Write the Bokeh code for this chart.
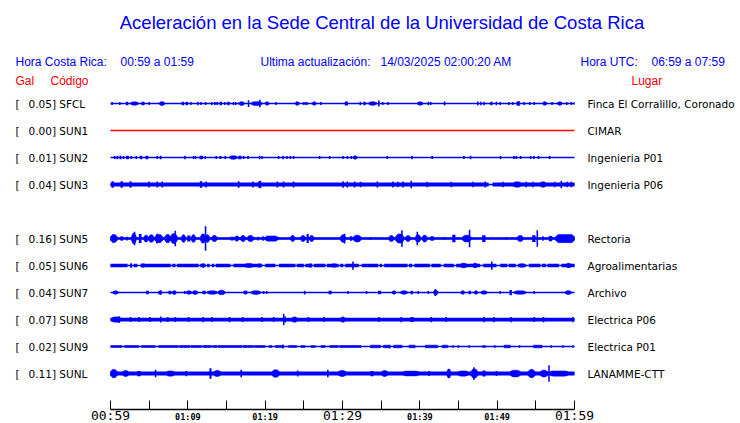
from bokeh.plotting import figure
from bokeh.models import LinearAxis, FixedTicker, Range1d, ColumnDataSource
from bokeh.core.properties import value
from bokeh.embed import file_html
from bokeh.resources import INLINE

# ---------------- data ----------------
TITLE = "Aceleración en la Sede Central de la Universidad de Costa Rica"
HDR_CR = ["Hora Costa Rica:", "00:59 a 01:59"]
HDR_UPD = ["Ultima actualización:", "14/03/2025 02:00:20 AM"]
HDR_UTC = ["Hora UTC:", "06:59 a 07:59"]
COL_HEADS = ["Gal", "Código", "Lugar"]

STATIONS = ["SFCL", "SUN1", "SUN2", "SUN3", "SUN5", "SUN6", "SUN7", "SUN8", "SUN9", "SUNL"]
SLOTS = [0, 1, 2, 3, 5, 6, 7, 8, 9, 10]          # SUN4 slot is empty
PEAK_GAL = [0.05, 0.00, 0.01, 0.04, 0.16, 0.05, 0.04, 0.07, 0.02, 0.11]
PLACES = ["Finca El Corralillo, Coronado", "CIMAR", "Ingenieria P01", "Ingenieria P06",
          "Rectoria", "Agroalimentarias", "Archivo", "Electrica P06", "Electrica P01", "LANAMME-CTT"]

# time axis (minutes after 00:59)
TICKS = [0, 5, 10, 15, 20, 25, 30, 35, 40, 45, 50, 55, 60]
SMALL_LABELS = {10: "01:09", 20: "01:19", 40: "01:39", 50: "01:49"}
BIG_LABELS = {0: "00:59", 30: "01:29", 60: "01:59"}

# continuous background level of each trace (gal, half amplitude)
BASE_GAL = [0.0, 0.0, 0.0, 0.028, 0.018, 0.022, 0.0, 0.025, 0.018, 0.027]

# quiet stretches (minutes) where the background level drops to the bare line
QUIET_SUN3 = [(48.9, 49.4)]
QUIET_SUN6 = [(2.2, 2.5), (2.7, 3.0), (3.45, 3.9), (7.8, 8.0), (8.4, 8.6), (11.4, 11.6), (12.3, 12.5),
              (12.8, 13.1), (13.4, 13.6), (15.5, 15.9), (19.6, 20.0), (21.3, 21.8), (23.9, 24.1),
              (25.0, 25.2), (26.1, 26.3), (27.8, 28.0), (29.5, 29.7), (30.1, 30.35), (32.1, 32.5),
              (34.6, 34.8), (35.1, 35.4), (38.4, 38.6), (39.0, 39.3), (41.3, 41.5), (42.7, 43.1),
              (44.4, 44.7), (47.8, 48.2), (49.9, 50.4), (51.3, 51.5), (52.4, 52.7), (53.7, 54.1),
              (55.6, 55.8), (56.3, 56.5), (58.0, 58.3)]
QUIET_SUN9 = [(1.5, 1.8), (3.7, 4.0), (5.8, 6.2), (8.8, 8.9), (10.3, 10.4), (11.8, 11.9), (13.1, 13.2),
              (13.8, 13.9), (17.0, 17.1), (18.5, 18.6), (20.0, 20.5), (20.9, 21.3), (22.4, 23.0),
              (24.1, 24.6), (25.2, 25.9), (26.5, 27.2), (27.8, 28.3), (29.5, 29.6), (32.4, 60.0)]

# bursts: (start minute, end minute, half amplitude in gal)
BURSTS_SFCL = [(0.1, 0.1, .02), (1.1, 1.1, .02), (2.0, 2.3, .022), (2.6, 3.6, .022), (4.0, 4.4, .022),
               (4.9, 4.9, .02), (6.3, 7.0, .025), (9.2, 9.5, .022), (9.7, 10.0, .022), (10.3, 10.5, .02),
               (11.2, 11.2, .022), (11.6, 11.6, .02), (12.2, 12.2, .02), (13.0, 13.0, .02), (13.4, 13.4, .02),
               (13.7, 13.7, .02), (14.1, 14.4, .022), (14.7, 14.7, .02), (15.1, 15.4, .022), (15.8, 15.8, .02),
               (16.1, 16.1, .02), (16.6, 17.3, .025), (17.75, 17.95, .045), (18.2, 19.6, .025),
               (19.2, 19.25, .05), (20.0, 20.5, .022), (21.3, 21.3, .02), (23.9, 24.4, .024),
               (24.9, 24.9, .02), (25.2, 25.5, .02), (26.1, 26.6, .022), (27.1, 27.1, .02), (30.3, 30.7, .026),
               (32.2, 32.2, .022), (32.7, 33.0, .022), (33.4, 34.4, .024), (34.6, 34.75, .04), (35.1, 35.1, .02),
               (35.8, 35.8, .02), (39.7, 40.4, .022), (41.0, 41.0, .022), (41.3, 41.3, .02), (43.1, 43.1, .028),
               (47.4, 47.4, .026), (47.8, 47.8, .022), (48.2, 48.2, .022), (49.1, 49.4, .024), (49.8, 50.0, .022),
               (50.3, 50.3, .02), (51.4, 51.4, .02), (51.9, 51.9, .02), (52.5, 52.9, .026), (52.7, 52.7, .032),
               (53.4, 53.4, .02), (54.1, 54.1, .02), (54.7, 54.7, .02), (55.9, 56.4, .024), (57.0, 57.0, .02),
               (57.8, 58.4, .022), (58.9, 58.9, .02), (59.5, 59.5, .02), (59.9, 59.9, .02)]
BURSTS_SUN1 = []
BURSTS_SUN2 = [(0.43, 0.65, .02), (0.78, 1.0, .022), (1.16, 1.42, .022), (1.59, 1.59, .02), (2.03, 2.37, .022),
               (2.59, 2.59, .02), (3.23, 3.23, .02), (3.79, 4.1, .022), (4.53, 4.88, .022), (5.95, 5.95, .02),
               (6.37, 6.59, .022), (9.53, 9.53, .022), (10.64, 10.64, .02), (10.9, 10.9, .02),
               (11.51, 11.94, .024), (12.16, 12.16, .02), (13.58, 13.58, .02), (14.09, 14.35, .02),
               (14.74, 14.74, .02), (15.39, 16.38, .024), (16.51, 16.94, .022), (17.11, 17.11, .02),
               (17.68, 17.68, .02), (19.18, 19.18, .022), (19.49, 19.49, .02), (21.63, 21.63, .02),
               (22.2, 22.41, .022), (22.72, 22.72, .02), (23.15, 23.15, .02), (23.57, 23.57, .02),
               (26.94, 26.94, .02), (28.23, 28.23, .02), (29.96, 29.96, .02), (30.52, 30.52, .02),
               (31.04, 31.04, .02), (31.38, 31.9, .022), (35.69, 35.69, .02), (38.88, 38.88, .022),
               (41.5, 41.7, .02), (45.61, 45.61, .02), (46.46, 46.46, .022), (50.34, 50.34, .02),
               (52.07, 52.07, .02), (52.37, 52.37, .02), (52.93, 52.93, .02), (54.22, 54.22, .02),
               (54.66, 54.66, .02), (55.26, 55.26, .02), (56.68, 56.68, .02)]
BURSTS_SUN3 = [(0.13, 0.43, .042), (1.29, 1.59, .042), (2.46, 2.72, .042), (4.88, 4.88, .04), (5.95, 5.95, .04),
               (6.59, 6.59, .04), (11.55, 11.86, .042), (12.28, 12.28, .04), (16.46, 16.68, .042),
               (18.32, 18.32, .04), (19.1, 19.44, .042), (19.3, 19.3, .05), (21.47, 21.47, .04),
               (22.28, 22.28, .04), (23.57, 23.57, .04), (29.96, 30.04, .042), (30.52, 30.52, .04),
               (31.47, 31.47, .04), (32.24, 32.24, .036), (34.4, 34.4, .04), (36.43, 36.63, .04),
               (37.07, 37.07, .036), (37.72, 37.72, .04), (38.79, 38.79, .05), (40.86, 40.86, .036),
               (43.97, 43.97, .036), (46.77, 46.77, .036), (48.36, 48.36, .04), (50.65, 50.65, .036),
               (52.15, 53.02, .036), (53.66, 53.66, .036), (54.53, 54.53, .036), (55.6, 56.25, .036),
               (57.33, 57.33, .036), (58.19, 58.19, .05), (58.97, 58.97, .036), (59.48, 59.48, .036)]
BURSTS_SUN5 = [(0.0, 0.87, .053), (1.29, 1.59, .03), (2.03, 2.03, .025), (2.72, 3.32, .07), (3.01, 3.01, .09),
               (3.66, 4.01, .06), (4.31, 4.88, .045), (4.95, 5.6, .05), (5.73, 6.76, .055), (5.91, 5.91, .065),
               (7.02, 7.76, .055), (7.76, 8.63, .065), (8.28, 8.28, .104), (9.18, 9.7, .05), (9.92, 10.34, .04),
               (10.47, 10.99, .05), (11.64, 12.28, .06), (12.19, 12.28, .164), (12.28, 12.8, .05),
               (13.06, 13.8, .04), (15.52, 15.94, .025), (16.07, 16.59, .035), (16.81, 17.46, .04),
               (17.68, 18.53, .04), (18.97, 19.18, .025), (19.62, 19.62, .03), (19.95, 21.69, .035),
               (23.28, 23.83, .04), (24.57, 25.22, .04), (25.35, 25.64, .06), (25.73, 26.29, .04),
               (29.74, 30.39, .05), (30.17, 30.17, .065), (30.95, 31.25, .03), (31.38, 32.42, .045),
               (33.53, 33.53, .02), (35.99, 36.63, .04), (36.85, 37.93, .06), (37.59, 37.59, .11),
               (38.15, 38.79, .04), (39.44, 40.09, .05), (39.57, 39.57, .09), (40.31, 40.95, .045),
               (41.38, 41.81, .03), (43.1, 43.1, .02), (44.19, 44.61, .05), (45.48, 46.64, .045),
               (46.33, 46.33, .117), (48.06, 48.49, .045), (51.08, 51.08, .02), (52.59, 53.37, .04),
               (54.53, 54.96, .045), (55.09, 55.09, .11), (55.82, 55.82, .03), (56.68, 57.12, .035),
               (57.54, 60.0, .055)]
BURSTS_SUN6 = [(2.6, 2.6, .03), (4.0, 4.4, .028), (11.9, 11.9, .03), (17.5, 18.3, .028), (19.1, 19.4, .028),
               (25.7, 26.0, .028), (28.7, 29.1, .028), (31.25, 31.25, .055), (45.3, 46.0, .03),
               (46.9, 47.4, .03), (49.2, 49.2, .055), (53.0, 53.4, .028), (59.0, 59.5, .03)]
BURSTS_SUN7 = [(0.3, 1.0, .022), (4.6, 4.95, .022), (6.2, 6.6, .025), (6.4, 6.4, .03), (7.5, 7.9, .022),
               (8.0, 8.5, .025), (9.5, 9.5, .02), (9.8, 10.5, .022), (10.6, 11.3, .025), (11.9, 12.3, .022),
               (12.5, 13.8, .022), (13.9, 14.8, .03), (17.2, 17.7, .022), (18.2, 19.4, .025), (19.7, 19.7, .02),
               (20.1, 20.1, .02), (25.0, 25.0, .025), (28.2, 28.6, .022), (30.6, 30.6, .02), (33.0, 33.0, .02),
               (34.6, 35.0, .022), (36.4, 36.9, .022), (37.5, 38.4, .022), (38.8, 39.1, .022),
               (39.7, 39.7, .02), (41.0, 41.0, .02), (41.8, 42.3, .035), (41.9, 41.9, .045), (45.3, 45.8, .022),
               (46.3, 46.6, .022), (47.0, 47.5, .022), (47.9, 48.7, .022), (50.3, 50.3, .02),
               (51.6, 51.9, .035), (52.2, 53.7, .022), (54.7, 54.7, .02), (58.8, 59.6, .025)]
BURSTS_SUN8 = [(0.2, 1.3, .035), (1.0, 1.0, .045), (2.5, 2.5, .033), (3.6, 3.6, .033), (5.0, 5.0, .033),
               (6.4, 6.4, .04), (7.3, 7.3, .033), (8.3, 8.3, .033), (10.0, 10.0, .033), (11.9, 11.9, .035),
               (13.0, 13.0, .033), (15.3, 15.3, .035), (17.0, 17.0, .033), (19.5, 19.5, .033),
               (21.0, 21.0, .033), (22.3, 22.3, .075), (22.5, 22.5, .04), (23.5, 24.1, .035),
               (25.5, 25.5, .033), (27.5, 27.5, .033), (29.8, 30.3, .035), (34.6, 34.6, .033),
               (37.5, 37.5, .035), (38.8, 39.2, .033), (41.4, 41.4, .035), (43.3, 43.3, .033),
               (48.2, 48.2, .035), (49.5, 49.5, .035), (51.7, 51.7, .035), (54.7, 54.7, .033),
               (55.9, 55.9, .035), (59.7, 59.7, .035)]
BURSTS_SUN9 = [(22.2, 22.2, .028), (33.6, 34.9, .018), (35.3, 36.0, .018), (36.0, 36.0, .025),
               (36.6, 37.7, .018), (38.6, 39.4, .018), (40.7, 42.3, .018), (42.9, 43.6, .018),
               (44.2, 44.2, .018), (44.9, 44.9, .018), (46.3, 46.3, .018), (48.1, 48.5, .018),
               (49.6, 49.6, .018), (50.9, 51.7, .018), (52.8, 52.8, .018), (54.7, 55.8, .018),
               (56.9, 56.9, .018), (58.4, 58.4, .018), (59.7, 59.7, .018)]
BURSTS_SUNL = [(0.0, 0.87, .055), (1.6, 2.3, .04), (3.45, 3.9, .035), (5.73, 5.73, .05), (7.3, 8.2, .035),
               (9.7, 9.7, .035), (12.8, 13.06, .07), (13.4, 14.2, .04), (16.8, 17.0, .05), (20.9, 21.8, .05),
               (24.1, 24.1, .04), (28.0, 28.0, .05), (29.5, 30.4, .04), (33.6, 34.0, .035), (35.1, 35.8, .04),
               (37.9, 39.8, .032), (41.1, 41.1, .032), (43.5, 44.0, .06), (45.0, 46.2, .035),
               (46.6, 47.5, .06), (46.9, 46.9, .085), (48.1, 48.5, .04), (49.8, 49.8, .032),
               (51.7, 53.0, .045), (54.0, 54.9, .055), (55.6, 56.5, .045), (56.6, 56.6, .11),
               (56.9, 59.1, .035)]

QUIET = [[], [], [], QUIET_SUN3, [], QUIET_SUN6, [], [], QUIET_SUN9, []]
BURSTS = [BURSTS_SFCL, BURSTS_SUN1, BURSTS_SUN2, BURSTS_SUN3, BURSTS_SUN5, BURSTS_SUN6,
          BURSTS_SUN7, BURSTS_SUN8, BURSTS_SUN9, BURSTS_SUNL]

# ---------------- layout constants ----------------
T0, T1 = 0.0, 60.0
PX_PER_MIN = 464 / 60.0
X_ORIGIN_PX = 110


def px2min(px):
    return (px - X_ORIGIN_PX) / PX_PER_MIN


ROW0, ROW_STEP = 103, 27
GAL_PX = 75.0
MIN_W = 0.2
BLUE, RED = "#0000ff", "#ff0000"

W, FRAME_H = 740, 409
p = figure(frame_width=W, frame_height=FRAME_H,
           x_range=Range1d(px2min(0), px2min(W)), y_range=Range1d(FRAME_H, 0),
           output_backend="svg", toolbar_location=None, min_border=0,
           x_axis_type=None, y_axis_type=None, outline_line_color=None,
           background_fill_color="white", border_fill_color="white")
p.grid.visible = False

# ---------------- traces ----------------
rq = dict(left=[], right=[], top=[], bottom=[], color=[])   # background band + thin spikes
pxs, pys, pcol = [], [], []                                  # tapered bursts
ln = dict(x0=[], x1=[], y=[], color=[])
for i, st in enumerate(STATIONS):
    yc = ROW0 + SLOTS[i] * ROW_STEP
    col = RED if PEAK_GAL[i] == 0 else BLUE
    ln["x0"].append(T0); ln["x1"].append(T1); ln["y"].append(yc); ln["color"].append(col)
    b = BASE_GAL[i]
    if b > 0:
        start = T0
        for q0, q1 in sorted(QUIET[i]) + [(T1, T1)]:
            if q0 > start:
                rq["left"].append(start); rq["right"].append(q0)
                rq["top"].append(yc - b * GAL_PX); rq["bottom"].append(yc + b * GAL_PX)
                rq["color"].append(col)
            start = max(start, q1)
    for t0, t1, a in BURSTS[i]:
        w = t1 - t0
        if w < 0.45:
            r = min(max(t1, t0 + MIN_W), T1)
            rq["left"].append(t0); rq["right"].append(r)
            rq["top"].append(yc - a * GAL_PX); rq["bottom"].append(yc + a * GAL_PX)
            rq["color"].append(col)
        else:
            tp = min(0.3 * w, 0.35)
            lo = max(b, 0.45 * a) * GAL_PX
            hi = a * GAL_PX
            pxs.append([t0, t0 + tp, t1 - tp, t1, t1, t1 - tp, t0 + tp, t0])
            pys.append([yc - lo, yc - hi, yc - hi, yc - lo, yc + lo, yc + hi, yc + hi, yc + lo])
            pcol.append(col)

p.quad(left="left", right="right", top="top", bottom="bottom", fill_color="color",
       line_color=None, source=ColumnDataSource(rq))
p.patches(xs="xs", ys="ys", fill_color="color", line_color="color", line_width=0.5,
          source=ColumnDataSource(dict(xs=pxs, ys=pys, color=pcol)))
p.segment(x0="x0", x1="x1", y0="y", y1="y", line_color="color", line_width=1.6,
          source=ColumnDataSource(ln))

# ---------------- station labels ----------------
rows_y = [ROW0 + s * ROW_STEP for s in SLOTS]
lab_font = value("DejaVu Sans")
p.text(x=[px2min(15)] * len(STATIONS), y=rows_y, text=["["] * len(STATIONS),
       text_font=lab_font, text_font_size="10.5px", text_baseline="middle", text_color="black")
p.text(x=[px2min(28)] * len(STATIONS), y=rows_y,
       text=[f"{g:.2f}] {s}" for g, s in zip(PEAK_GAL, STATIONS)],
       text_font=lab_font, text_font_size="10.5px", text_baseline="middle", text_color="black")
p.text(x=[px2min(587)] * len(STATIONS), y=rows_y, text=PLACES,
       text_font=lab_font, text_font_size="10.5px", text_baseline="middle", text_color="black")

# ---------------- header ----------------
hf = value("Liberation Sans")
p.text(x=[px2min(381.5)], y=[22], text=[TITLE], text_font=hf, text_font_size="18.5px",
       text_align="center", text_baseline="middle", text_color=BLUE)
hx = [px2min(15), px2min(120), px2min(260), px2min(380), px2min(580), px2min(651)]
ht = [HDR_CR[0], HDR_CR[1], HDR_UPD[0], HDR_UPD[1], HDR_UTC[0], HDR_UTC[1]]
p.text(x=hx, y=[61] * 6, text=ht, text_font=hf, text_font_size="12px",
       text_baseline="middle", text_color=BLUE)
p.text(x=[px2min(15), px2min(50), px2min(631)], y=[80] * 3, text=COL_HEADS, text_font=hf,
       text_font_size="12px", text_baseline="middle", text_color=RED)

# ---------------- time axis ----------------
ax1 = LinearAxis(ticker=FixedTicker(ticks=TICKS), bounds=(T0, T1),
                 major_label_overrides={t: SMALL_LABELS.get(t, "") for t in TICKS},
                 major_tick_in=9, major_tick_out=0, minor_tick_line_color=None,
                 axis_line_width=1.3, axis_line_color="black",
                 major_tick_line_width=1, major_tick_line_color="black",
                 major_label_text_font="DejaVu Sans Mono", major_label_text_font_size="8.5px",
                 major_label_text_font_style="bold", major_label_text_color="black",
                 major_label_standoff=2)
ax2 = LinearAxis(ticker=FixedTicker(ticks=list(BIG_LABELS.keys())),
                 major_label_overrides=dict(BIG_LABELS),
                 axis_line_color=None, major_tick_line_color=None, minor_tick_line_color=None,
                 major_label_text_font="DejaVu Sans Mono", major_label_text_font_size="13px",
                 major_label_text_color="black", major_label_standoff=-23)
p.add_layout(ax1, "below")
p.add_layout(ax2, "below")

open("out.html", "w").write(file_html(p, INLINE))
